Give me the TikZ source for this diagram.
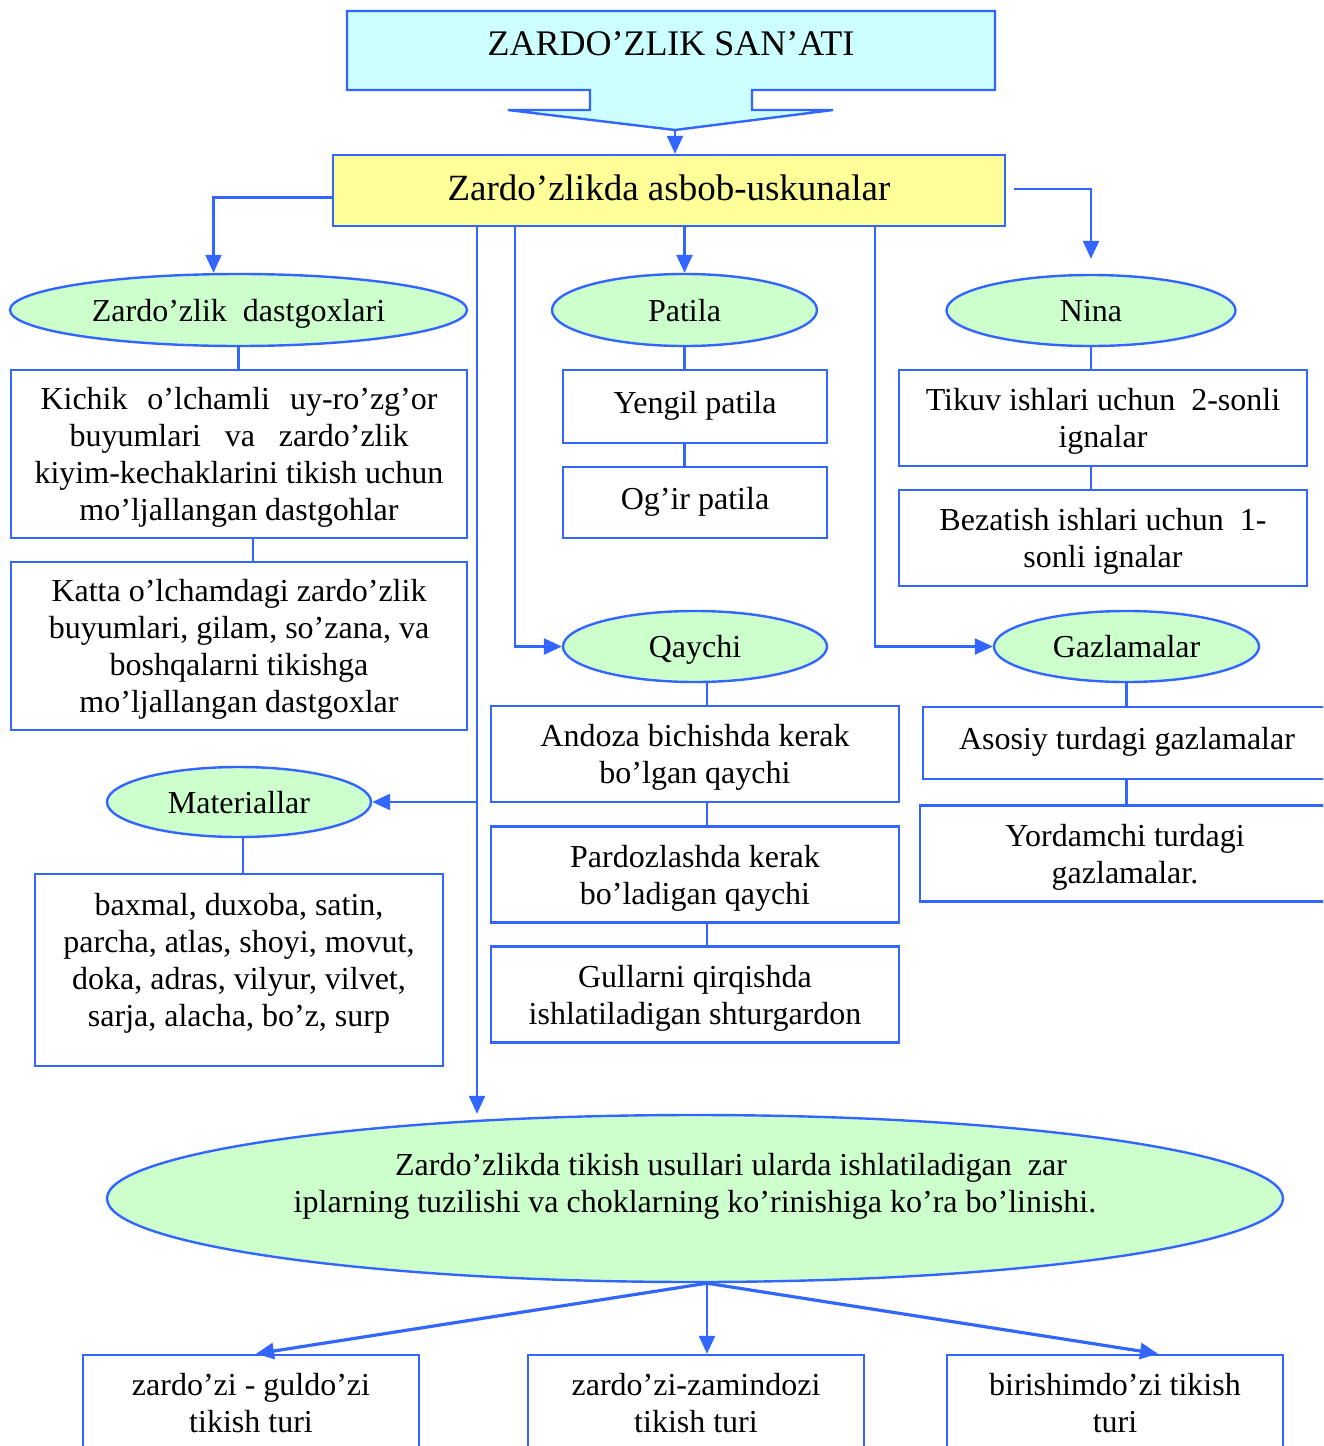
\documentclass[tikz,border=0pt]{standalone}
\usepackage{fontspec}
\setmainfont{Liberation Serif}
\usetikzlibrary{arrows.meta,shapes.geometric}
\definecolor{lb}{HTML}{3366FF}
\definecolor{egreen}{HTML}{CCFFCC}
\definecolor{cyanf}{HTML}{CCFFFF}
\definecolor{yel}{HTML}{FFFF99}
\begin{document}
\begin{tikzpicture}[x=1pt,y=-1pt,
  every node/.style={font=\fontsize{32}{37}\selectfont, text=black},
  ln/.style={draw=lb, line width=2.4pt},
  arr/.style={draw=lb, line width=2.4pt, -{Triangle[length=18pt,width=16pt]}},
  ell/.style={ellipse, draw=lb, line width=2.4pt, fill=egreen, inner sep=0pt, align=center, text depth=0pt},
  bx/.style={rectangle, draw=lb, line width=2.4pt, fill=white, inner sep=0pt, align=center, text depth=0pt}]
\useasboundingbox (0,0) rectangle (1323,1446);
\clip (0,0) rectangle (1323,1446);
\fill[white] (0,0) rectangle (1323,1446);

% title callout
\filldraw[draw=lb, line width=2.4pt, fill=cyanf] (347,11) -- (995,11) -- (995,90) -- (752,90) -- (752,110) -- (833,110) -- (675,130) -- (508,110) -- (590,110) -- (590,90) -- (347,90) -- cycle;
\node (title) at (671,44) {\fontsize{36}{40}\selectfont ZARDO’ZLIK SAN’ATI};
\coordinate (tip) at (675,130);

\node[bx, fill=yel, minimum width=672pt, minimum height=71pt, text depth=6pt] (tools) at (669,190.5) {\fontsize{37}{42}\selectfont Zardo’zlikda asbob-uskunalar};

% ellipses
\node[ell, minimum width=457pt, minimum height=72pt] (dast) at (238.5,310) {Zardo’zlik\ \ dastgoxlari};
\node[ell, minimum width=265pt, minimum height=72pt] (patila) at (684.5,310) {Patila};
\node[ell, minimum width=289pt, minimum height=71pt] (nina) at (1091,310.5) {Nina};
\node[ell, minimum width=264pt, minimum height=71pt] (qaychi) at (695,646.5) {Qaychi};
\node[ell, minimum width=265pt, minimum height=71pt] (gaz) at (1126.5,646.5) {Gazlamalar};
\node[ell, minimum width=264pt, minimum height=70pt] (mat) at (239,802) {Materiallar};
\node[ell, minimum width=1176pt, minimum height=167pt, text depth=31pt] (big) at (695,1198.5) {\hspace*{72pt}Zardo’zlikda tikish usullari ularda ishlatiladigan\ \ zar\\iplarning tuzilishi va choklarning ko’rinishiga ko’ra bo’linishi.};

% boxes
\node[bx, minimum width=456pt, minimum height=168pt] (kichik) at (239,454) {\makebox[397pt][s]{Kichik o’lchamli uy-ro’zg’or}\\\makebox[339pt][s]{buyumlari va zardo’zlik}\\kiyim-kechaklarini tikish uchun\\mo’ljallangan dastgohlar};
\node[bx, minimum width=456pt, minimum height=168pt] (katta) at (239,646) {Katta o’lchamdagi zardo’zlik\\buyumlari, gilam, so’zana, va\\boshqalarni tikishga\\mo’ljallangan dastgoxlar};
\node[bx, minimum width=264pt, minimum height=73pt, text depth=8pt] (yengil) at (695,406.5) {Yengil patila};
\node[bx, minimum width=264pt, minimum height=71pt, text depth=8pt] (ogir) at (695,502.5) {Og’ir patila};
\node[bx, minimum width=408pt, minimum height=96pt] (tikuv) at (1103,418) {Tikuv ishlari uchun\ \ 2-sonli\\ignalar};
\node[bx, minimum width=408pt, minimum height=96pt] (bezat) at (1103,538) {Bezatish ishlari uchun\ \ 1-\\sonli ignalar};
\node[bx, minimum width=408pt, minimum height=96pt] (andoza) at (695,754) {Andoza bichishda kerak\\bo’lgan qaychi};
\node[bx, minimum width=408pt, minimum height=96pt] (pardoz) at (695,874.5) {Pardozlashda kerak\\bo’ladigan qaychi};
\node[bx, minimum width=408pt, minimum height=96pt] (gullar) at (695,994.5) {Gullarni qirqishda\\ishlatiladigan shturgardon};
\node[bx, minimum width=408pt, minimum height=72pt, text depth=9pt] (asosiy) at (1127,743) {Asosiy turdagi gazlamalar};
\node[bx, minimum width=410pt, minimum height=96pt] (yordam) at (1125,853.5) {Yordamchi turdagi\\gazlamalar.};
\node[bx, minimum width=408pt, minimum height=192pt, text depth=20pt] (baxmal) at (239,970) {baxmal, duxoba, satin,\\parcha, atlas, shoyi, movut,\\doka, adras, vilyur, vilvet,\\sarja, alacha, bo’z, surp};
\node[bx, minimum width=336pt, minimum height=96pt] (b1) at (251,1403) {zardo’zi - guldo’zi\\tikish turi};
\node[bx, minimum width=336pt, minimum height=96pt] (b2) at (696,1403) {zardo’zi-zamindozi\\tikish turi};
\node[bx, minimum width=336pt, minimum height=96pt] (b3) at (1115,1403) {birishimdo’zi tikish\\turi};

% connectors
\draw[arr] (tip) -- (tip |- tools.north);
\draw[arr] ([yshift=-7pt]tools.west) -| ([xshift=-25pt]dast.north);
\draw[arr] ([xshift=8pt,yshift=1.5pt]tools.east) -| ([yshift=15pt]nina.north);
\draw[arr] (tools.south -| patila.north) -- (patila.north);
\coordinate (cq) at (515,226);
\coordinate (cg) at (875,226);
\coordinate (trunk) at (477,226);
\draw[arr] (cq) |- (qaychi.west);
\draw[arr] (cg) |- (gaz.west);
\draw[arr] (trunk) -- (trunk |- big.north);
\draw[arr] (trunk |- mat.east) -- (mat.east);
\draw[ln] (dast.south) -- (dast.south |- kichik.north);
\draw[ln] ([xshift=14pt]kichik.south) -- ([xshift=14pt]katta.north);
\draw[ln] (patila.south) -- (patila.south |- yengil.north);
\draw[ln] (yengil.south -| patila.south) -- (ogir.north -| patila.south);
\draw[ln] (nina.south) -- (nina.south |- tikuv.north);
\draw[ln] (tikuv.south -| nina.south) -- (bezat.north -| nina.south);
\draw[ln] ([xshift=12pt]qaychi.south) -- ([xshift=12pt]andoza.north);
\draw[ln] ([xshift=12pt]andoza.south) -- ([xshift=12pt]pardoz.north);
\draw[ln] ([xshift=12pt]pardoz.south) -- ([xshift=12pt]gullar.north);
\draw[ln] (gaz.south) -- (gaz.south |- asosiy.north);
\draw[ln] (asosiy.south -| gaz.south) -- (yordam.north -| gaz.south);
\draw[ln] ([xshift=4pt]mat.south) -- ([xshift=4pt]mat.south |- baxmal.north);
\coordinate (bo) at ([xshift=12pt]big.south);
\draw[arr, line width=3.2pt] (bo) -- ([xshift=5pt]b1.north);
\draw[arr] (bo) -- (bo |- b2.north);
\draw[arr, line width=3.2pt] (bo) -- ([xshift=43pt]b3.north);
\end{tikzpicture}
\end{document}
